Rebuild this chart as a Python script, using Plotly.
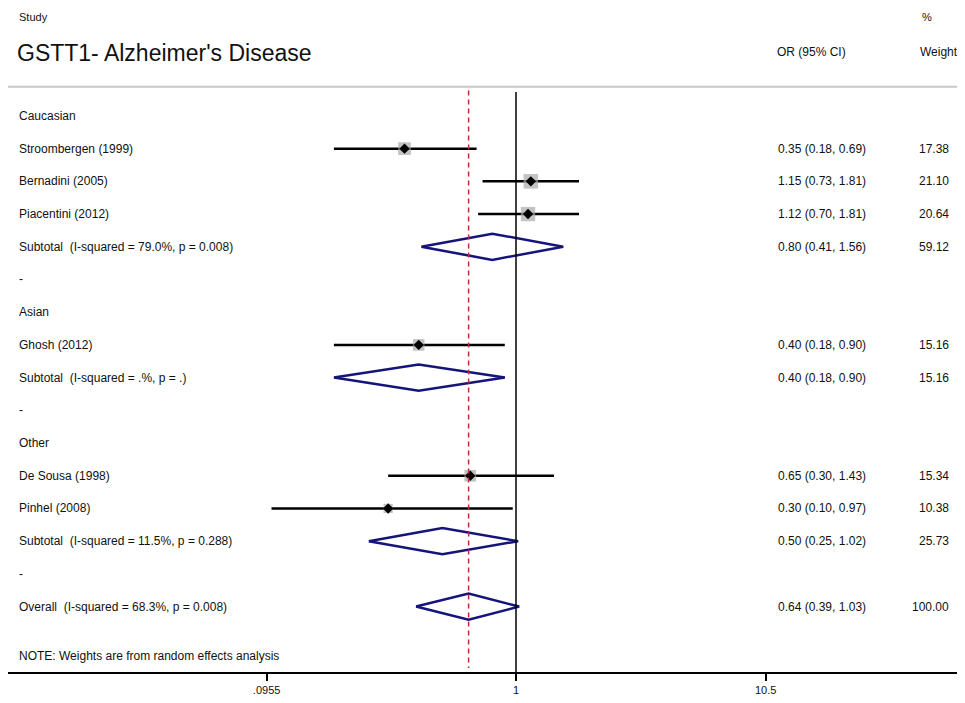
import plotly.graph_objects as go

# ---------------- data ----------------
row_labels = [
    "Caucasian",
    "Stroombergen (1999)",
    "Bernadini (2005)",
    "Piacentini (2012)",
    "Subtotal  (I-squared = 79.0%, p = 0.008)",
    "-",
    "Asian",
    "Ghosh (2012)",
    "Subtotal  (I-squared = .%, p = .)",
    "-",
    "Other",
    "De Sousa (1998)",
    "Pinhel (2008)",
    "Subtotal  (I-squared = 11.5%, p = 0.288)",
    "-",
    "Overall  (I-squared = 68.3%, p = 0.008)",
]
row_types = ["group", "study", "study", "study", "pooled", "dash",
             "group", "study", "pooled", "dash",
             "group", "study", "study", "pooled", "dash", "pooled"]
odds_ratio = [None, 0.35, 1.15, 1.12, 0.80, None, None, 0.40, 0.40, None, None, 0.65, 0.30, 0.50, None, 0.64]
ci_low = [None, 0.18, 0.73, 0.70, 0.41, None, None, 0.18, 0.18, None, None, 0.30, 0.10, 0.25, None, 0.39]
ci_high = [None, 0.69, 1.81, 1.81, 1.56, None, None, 0.90, 0.90, None, None, 1.43, 0.97, 1.02, None, 1.03]
weights = [None, 17.38, 21.10, 20.64, 59.12, None, None, 15.16, 15.16, None, None, 15.34, 10.38, 25.73, None, 100.00]

tick_values = [0.0955, 1, 10.5]
tick_labels = [".0955", "1", "10.5"]

title_text = "GSTT1- Alzheimer's Disease"
note_text = "NOTE: Weights are from random effects analysis"
overall_or = odds_ratio[-1]

# ---------------- styling ----------------
FONT = "Liberation Sans, Arial, sans-serif"
TXT = "#111111"
NAVY = "#14147a"
OFF = 8            # page body margin
W = 965 - OFF
H = 703 - 2 * OFF
B = H - (672 - OFF)

fig = go.Figure()

# CI lines for individual studies
lx, ly = [], []
for i, t in enumerate(row_types):
    if t == "study":
        lx += [ci_low[i], ci_high[i], None]
        ly += [i, i, None]
fig.add_trace(go.Scatter(x=lx, y=ly, mode="lines", line=dict(color="black", width=2.5),
                         hoverinfo="skip", showlegend=False))

# weight boxes
bx = [odds_ratio[i] for i, t in enumerate(row_types) if t == "study"]
by = [i for i, t in enumerate(row_types) if t == "study"]
bs = [4 + 0.5 * weights[i] for i, t in enumerate(row_types) if t == "study"]
fig.add_trace(go.Scatter(x=bx, y=by, mode="markers",
                         marker=dict(symbol="square", size=bs, color="#aaaaaa", line=dict(width=0)),
                         hoverinfo="skip", showlegend=False))
fig.add_trace(go.Scatter(x=bx, y=by, mode="markers",
                         marker=dict(symbol="diamond", size=8, color="black"),
                         hoverinfo="skip", showlegend=False))

# pooled diamonds
h = 0.4
for i, t in enumerate(row_types):
    if t == "pooled":
        fig.add_trace(go.Scatter(
            x=[ci_low[i], odds_ratio[i], ci_high[i], odds_ratio[i], ci_low[i]],
            y=[i, i - h, i, i + h, i], mode="lines",
            line=dict(color=NAVY, width=2.5), hoverinfo="skip", showlegend=False))

# vertical null line and overall dashed line
y_top = -0.73
y_bot = 17.0
fig.add_trace(go.Scatter(x=[1, 1], y=[y_top, y_bot], mode="lines",
                         line=dict(color="black", width=1.5), hoverinfo="skip", showlegend=False))
fig.add_trace(go.Scatter(x=[overall_or, overall_or], y=[y_top - 0.05, 16.88], mode="lines",
                         line=dict(color="#b3303c", width=1.5, dash="5px,4px"),
                         hoverinfo="skip", showlegend=False))

ann = []
def add_text(px, y, text, size=12, anchor="left"):
    ann.append(dict(x=(px - OFF) / W, xref="paper", y=y, yref="y", text=text, showarrow=False,
                    xanchor=anchor, yanchor="middle", font=dict(family=FONT, size=size, color=TXT)))

# header
add_text(17, -3.02, "Study", 11)
add_text(15, -1.92, title_text, 23)
add_text(775, -1.95, "OR (95% CI)", 12)
add_text(920, -3.02, "%", 11)
add_text(918, -1.95, "Weight", 12)

for i, lab in enumerate(row_labels):
    add_text(17, i, lab, 12)
    if odds_ratio[i] is not None:
        add_text(776, i, f"{odds_ratio[i]:.2f} ({ci_low[i]:.2f}, {ci_high[i]:.2f})", 12)
        add_text(951, i, f"{weights[i]:.2f}", 12, "right")
add_text(17, 16.5, note_text, 12)

px_per_dec = 244.5
x_lo = (OFF - 516) / px_per_dec
x_hi = (965 - 516) / px_per_dec
y_top_range = (OFF - 116) / 32.73

fig.update_layout(
    width=W, height=H,
    margin=dict(l=0, r=0, t=0, b=B),
    paper_bgcolor="white", plot_bgcolor="white",
    annotations=ann,
    shapes=[dict(type="line", xref="paper", x0=0, x1=1, yref="y", y0=-0.89, y1=-0.89,
                 line=dict(color="#c8c8c8", width=2))],
    xaxis=dict(type="log", range=[x_lo, x_hi], tickvals=tick_values, ticktext=tick_labels,
               showline=True, linecolor="black", linewidth=2, ticks="outside", ticklen=7,
               tickwidth=2, tickcolor="black", showgrid=False, zeroline=False,
               tickfont=dict(family=FONT, size=11, color=TXT)),
    yaxis=dict(range=[17.0, y_top_range], visible=False, showgrid=False, zeroline=False),
)

fig.write_html("out.html")
